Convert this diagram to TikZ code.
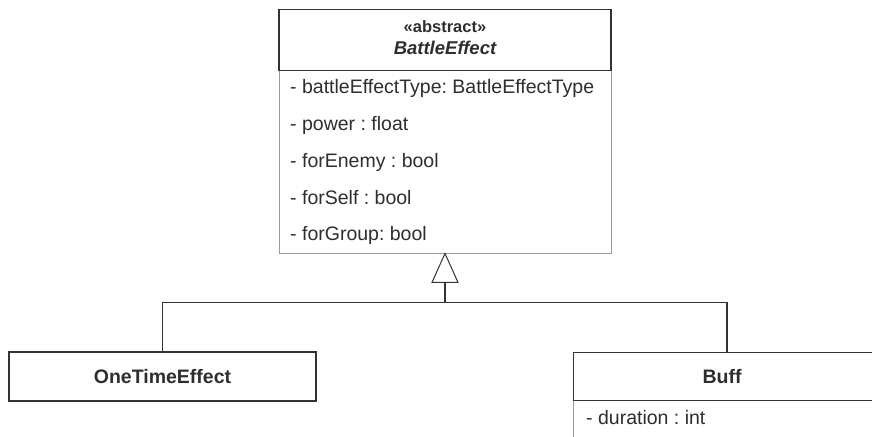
\documentclass[tikz,border=0pt]{standalone}
\usepackage{fontspec}
\setmainfont{Liberation Sans}
\usetikzlibrary{calc}
\frenchspacing
\definecolor{ink}{HTML}{2E2E2E}
\definecolor{edge}{HTML}{333333}
\definecolor{soft}{HTML}{9A9A9A}
\begin{document}
\begin{tikzpicture}[x=1pt,y=-1pt,
  hdrbox/.style={draw=edge,line width=1.1pt,fill=white,inner sep=0pt},
  attrbox/.style={draw=soft,line width=0.9pt,fill=white,inner sep=0pt},
  attr/.style={anchor=west,inner sep=0pt,text=ink,font=\fontsize{19.5}{23}\selectfont},
  cname/.style={inner sep=0pt,text=ink,font=\fontsize{19.5}{23}\selectfont\bfseries},
  stereo/.style={inner sep=0pt,text=ink,font=\fontsize{16.5}{20}\selectfont\bfseries},
  link/.style={draw=edge,line width=1.1pt},
  inherit/.style={draw=edge,line width=1pt,fill=white,line join=miter}]
\useasboundingbox (0,0) rectangle (872,436);
\clip (0,0) rectangle (872,436);

% abstract superclass BattleEffect
\node[attrbox,minimum width=332,minimum height=183] (beAttrs) at (445,161.5) {};
\node[hdrbox,minimum width=332,minimum height=61] (beHead) at (445,40) {};
\node[stereo] (beStereo) at (445,27) {«abstract»};
\node[cname,font=\fontsize{18.5}{22}\selectfont\bfseries\itshape] (beName) at (445,47.5) {BattleEffect};
\node[attr] (a1) at (290,88) {- battleEffectType: BattleEffectType};
\node[attr] (a2) at (290,125) {- power : float};
\node[attr] (a3) at (290,162) {- forEnemy : bool};
\node[attr] (a4) at (290,198) {- forSelf : bool};
\node[attr] (a5) at (290,235) {- forGroup: bool};

% subclass OneTimeEffect
\node[hdrbox,minimum width=307,minimum height=49] (one) at (162.5,376.5) {};
\node[cname] (oneName) at (162.5,377) {OneTimeEffect};

% subclass Buff (runs past the right and bottom edges)
\node[attrbox,minimum width=310,minimum height=60,anchor=north west] (buffAttrs) at (573,400) {};
\node[hdrbox,minimum width=310,minimum height=48,anchor=north west] (buff) at (573,352) {};
\node[cname] (buffName) at (722,377) {Buff};
\node[attr] (b1) at (586,418) {- duration : int};

% generalization: tree of lines meeting at one hollow triangle
\coordinate (apex) at (beAttrs.south);
\coordinate (tbase) at ($(apex)+(0,29)$);
\coordinate (join) at ($(apex)+(0,49)$);
\coordinate (oneTop) at (one.north);
\coordinate (buffTop) at (buff.north -| 727,0);
\draw[link] (tbase) -- (join);
\draw[link] (join -| oneTop) -- (join -| buffTop);
\draw[link] (join -| oneTop) -- (oneTop);
\draw[link] (join -| buffTop) -- (buffTop);
\draw[inherit] (apex) -- ($(tbase)+(-13,0)$) -- ($(tbase)+(13,0)$) -- cycle;
\end{tikzpicture}
\end{document}
